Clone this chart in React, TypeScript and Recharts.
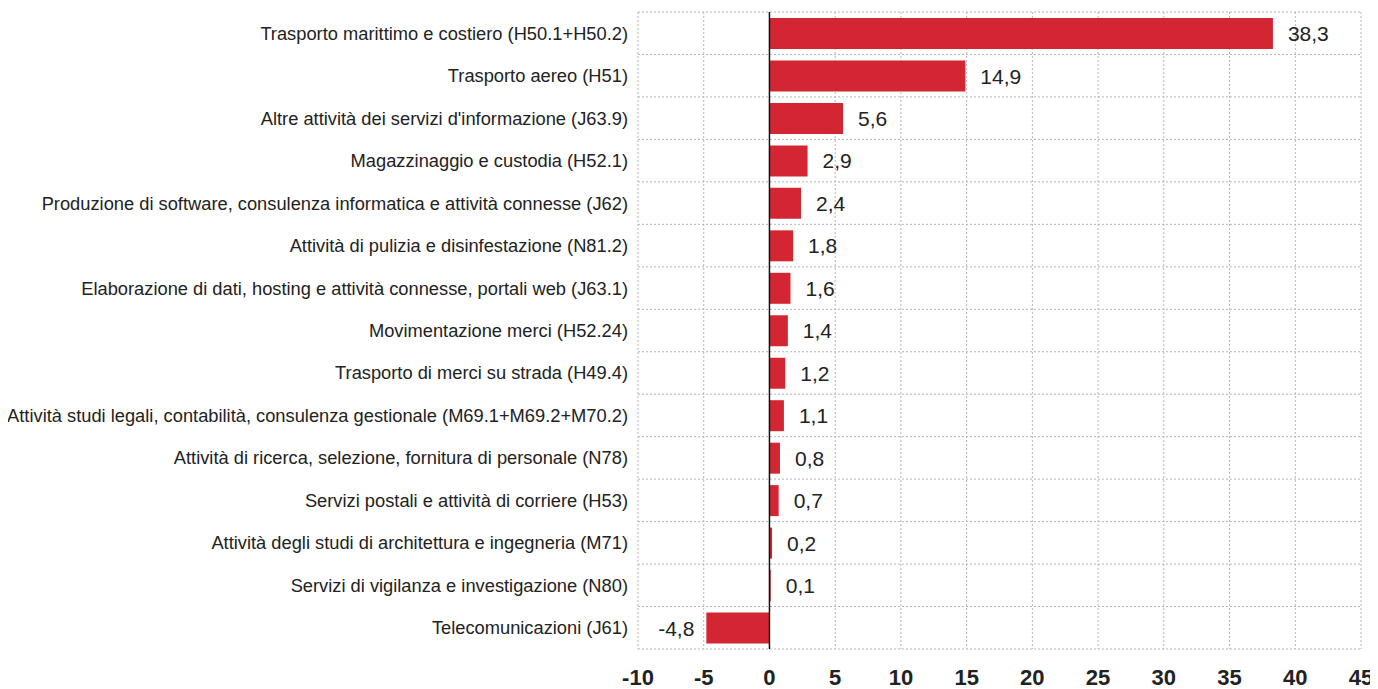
import {
  BarChart,
  Bar,
  XAxis,
  YAxis,
  CartesianGrid,
  ReferenceLine,
  LabelList,
} from "recharts";

const categories = [
  "Trasporto marittimo e costiero (H50.1+H50.2)",
  "Trasporto aereo (H51)",
  "Altre attività dei servizi d'informazione (J63.9)",
  "Magazzinaggio e custodia (H52.1)",
  "Produzione di software, consulenza informatica e attività connesse (J62)",
  "Attività di pulizia e disinfestazione (N81.2)",
  "Elaborazione di dati, hosting e attività connesse, portali web (J63.1)",
  "Movimentazione merci (H52.24)",
  "Trasporto di merci su strada (H49.4)",
  "Attività studi legali, contabilità, consulenza gestionale (M69.1+M69.2+M70.2)",
  "Attività di ricerca, selezione, fornitura di personale (N78)",
  "Servizi postali e attività di corriere (H53)",
  "Attività degli studi di architettura e ingegneria (M71)",
  "Servizi di vigilanza e investigazione (N80)",
  "Telecomunicazioni (J61)",
];

const values = [38.3, 14.9, 5.6, 2.9, 2.4, 1.8, 1.6, 1.4, 1.2, 1.1, 0.8, 0.7, 0.2, 0.1, -4.8];

const xTicks = [-10, -5, 0, 5, 10, 15, 20, 25, 30, 35, 40, 45];

const data = categories.map((name, i) => ({ name, value: values[i] }));

const fmt = (v: number) => v.toFixed(1).replace(".", ",");

const FONT = "'Liberation Sans', Arial, sans-serif";

function ValueLabel(props: any) {
  const { x, y, width, height, value } = props;
  const left = Math.min(x, x + width);
  const right = Math.max(x, x + width);
  const neg = value < 0;
  return (
    <text
      x={neg ? left - 12 : right + 15}
      y={y + height / 2}
      dy="0.36em"
      textAnchor={neg ? "end" : "start"}
      fill="#222"
      fontSize={21}
      fontFamily={FONT}
    >
      {fmt(value)}
    </text>
  );
}

function App() {
  return (
    <BarChart
      width={1370}
      height={681}
      data={data}
      layout="vertical"
      margin={{ top: 4, right: 17, bottom: 0, left: 0 }}
    >
      <CartesianGrid
        stroke="#b5b5b5"
        strokeDasharray="2 2"
        horizontalCoordinatesGenerator={({ offset }: any) =>
          categories.map((_, i) => offset.top + (i * offset.height) / categories.length).concat(offset.top + offset.height)
        }
      />
      <XAxis
        type="number"
        domain={[-10, 45]}
        ticks={xTicks}
        interval={0}
        axisLine={false}
        tickLine={false}
        height={40}
        tickMargin={14}
        tick={{ fill: "#222", fontSize: 22, fontWeight: 700, fontFamily: FONT }}
      />
      <YAxis
        type="category"
        dataKey="name"
        width={630}
        axisLine={false}
        tickLine={false}
        interval={0}
        tickMargin={4}
        tick={{ fill: "#222", fontSize: 18.3, fontFamily: FONT }}
      />
      <Bar dataKey="value" fill="#d42632" barSize={31} isAnimationActive={false}>
        <LabelList dataKey="value" content={<ValueLabel />} />
      </Bar>
      <ReferenceLine x={0} stroke="#111" strokeWidth={1.5} />
    </BarChart>
  );
}

export default App;
